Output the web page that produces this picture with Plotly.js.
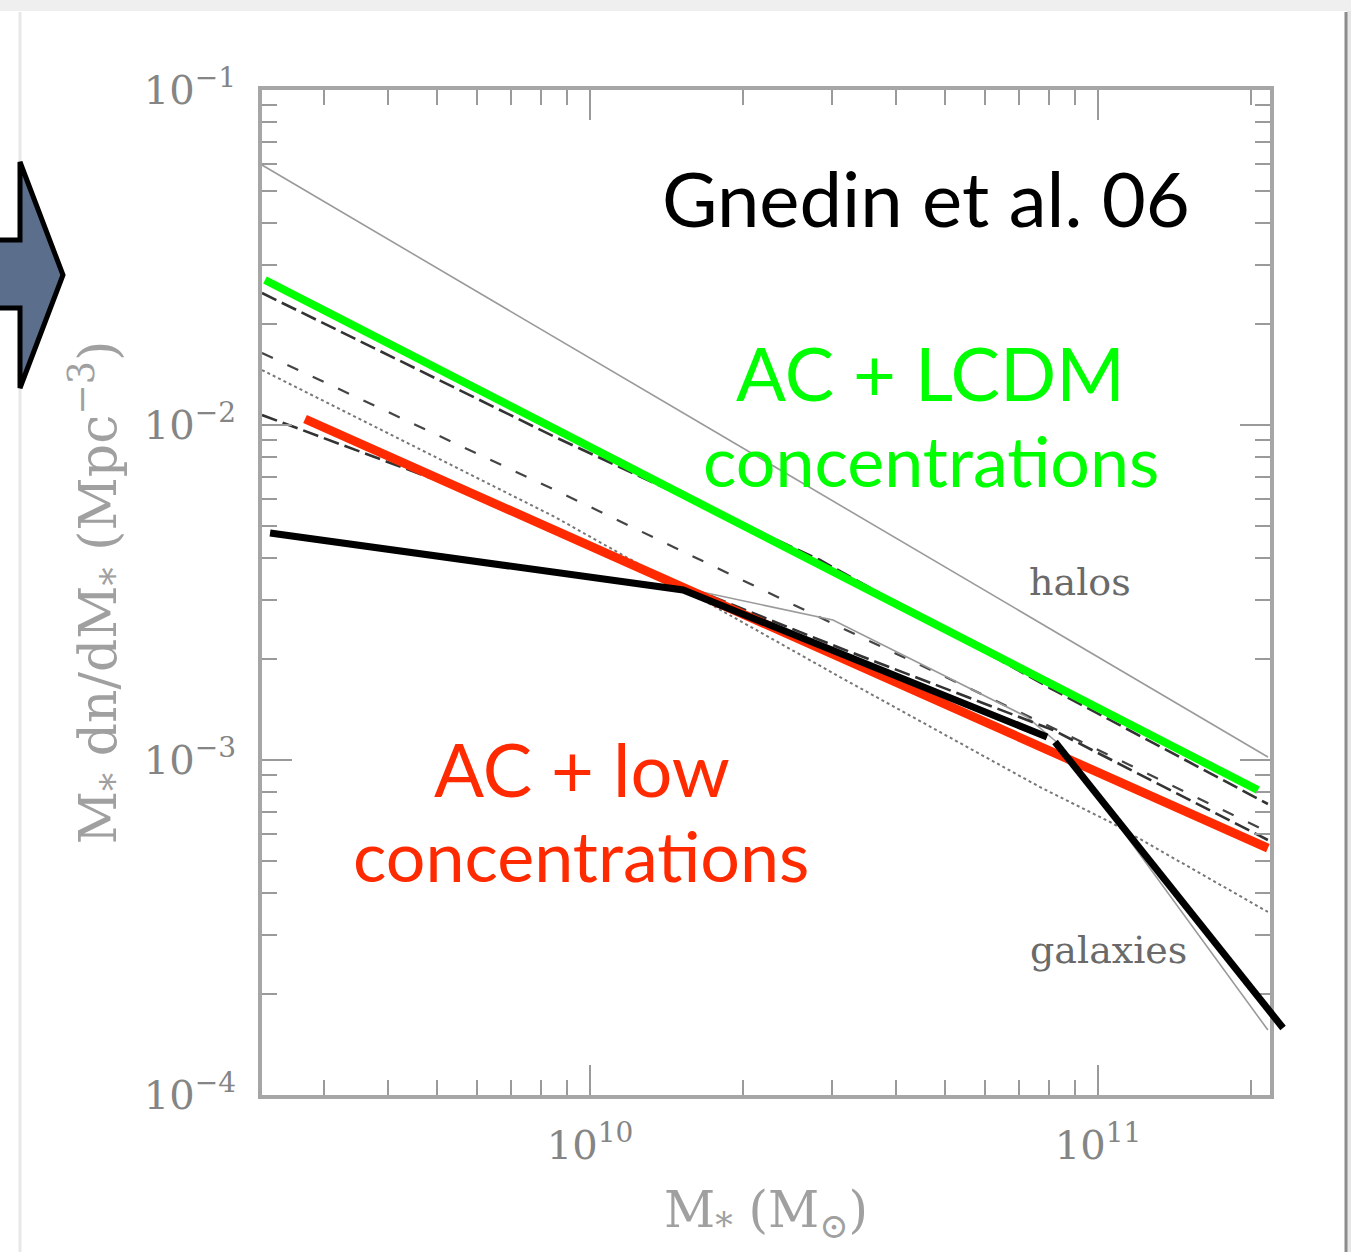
<!DOCTYPE html>
<html>
<head>
<meta charset="utf-8">
<script src="https://cdn.plot.ly/plotly-3.0.1.min.js"></script>
<style>html,body{margin:0;padding:0;background:#fff;}#chart{width:1351px;height:1252px;}</style>
</head>
<body>
<div id="chart"></div>
<script>
// ---- data (stellar mass M*, number density M* dn/dM*) ----
const haloM = [2.261e9, 1e10, 1e11, 2.16e11];
const haloN = [0.0597, 0.01585, 0.00203, 0.001021];

const greenM = [2.292e9, 1e10, 1e11, 2.065e11];
const greenN = [0.02709, 0.0086, 0.001431, 0.000813];

const redM = [2.748e9, 1e10, 1e11, 2.16e11];
const redN = [0.01042, 0.004352, 0.000919, 0.000546];

const blackM = [2.345e9, 1.525e10, 7.937e10, null, 8.23e10, 2.313e11];
const blackN = [0.00476, 0.003217, 0.001172, null, 0.001132, 0.0001585];

const longDashM = [2.261e9, 8.53e9, 2.836e10, 8.045e10, 2.16e11];
const longDashN = [0.02477, 0.009209, 0.003954, 0.00164, 0.000739];

const dashM = [2.261e9, 8.53e9, 3.105e10, 8.155e10, 2.16e11];
const dashN = [0.0164, 0.006397, 0.002494, 0.001246, 0.00061];

const dotM = [2.261e9, 8.53e9, 3.105e10, 7.69e10, 1.056e11, 2.16e11];
const dotN = [0.01459, 0.005314, 0.001769, 0.00083, 0.000653, 0.000352];

const lowDashM = [2.261e9, 5.42e9, 1.525e10, 3.105e10, 8.155e10, 2.16e11];
const lowDashN = [0.01071, 0.00653, 0.00333, 0.002159, 0.001229, 0.000577];

const galM = [1.525e10, 3.008e10, 7.247e10, 8.42e10, 2.16e11];
const galN = [0.003262, 0.002618, 0.001344, 0.001109, 0.0001563];

const xTickVals = [1e10, 1e11];
const xTickText = ['10<sup>10</sup>', '10<sup>11</sup>'];
const xMinorVals = [3e9,4e9,5e9,6e9,7e9,8e9,9e9,2e10,3e10,4e10,5e10,6e10,7e10,8e10,9e10,2e11];
const yTickVals = [1e-4, 1e-3, 1e-2, 1e-1];
const yTickText = ['10<sup>−4</sup>', '10<sup>−3</sup>', '10<sup>−2</sup>', '10<sup>−1</sup>'];
const yMinorVals = [2e-4,3e-4,4e-4,5e-4,6e-4,7e-4,8e-4,9e-4,2e-3,3e-3,4e-3,5e-3,6e-3,7e-3,8e-3,9e-3,2e-2,3e-2,4e-2,5e-2,6e-2,7e-2,8e-2,9e-2];

// ---- traces ----
const traces = [
  {x: haloM, y: haloN, mode: 'lines', line: {color: '#9a9a9a', width: 1.6}},
  {x: dotM, y: dotN, mode: 'lines', line: {color: '#777', width: 2, dash: 'dot'}},
  {x: dashM, y: dashN, mode: 'lines', line: {color: '#444', width: 2.2, dash: '12px,16px'}},
  {x: galM, y: galN, mode: 'lines', line: {color: '#9a9a9a', width: 1.6}},
  {x: longDashM, y: longDashN, mode: 'lines', line: {color: '#333', width: 2.6, dash: '16px,6px'}},
  {x: lowDashM, y: lowDashN, mode: 'lines', line: {color: '#333', width: 2.6, dash: '16px,6px'}},
  {x: greenM, y: greenN, mode: 'lines', line: {color: '#00ff00', width: 8}},
  {x: redM, y: redN, mode: 'lines', line: {color: '#ff2a00', width: 9}},
  {x: blackM, y: blackN, mode: 'lines', xaxis: 'x2', connectgaps: false, line: {color: '#000', width: 7}}
];

const serif = 'DejaVu Serif, Liberation Serif, serif';
const sans = 'Lato, Open Sans, sans-serif';
const lx = 9.3543, rx = 11.3386;

// pixel helper for paper coordinates of decorations
const PX = p => (p - 262) / 1030;
const PY = p => (1095 - p) / 1005;

const axisCommon = {
  type: 'log', showgrid: false, zeroline: false,
  showline: true, linecolor: '#a6a6a6', linewidth: 4, mirror: 'ticks',
  ticks: 'inside', ticklen: 30, tickwidth: 2, tickcolor: '#9a9a9a',
  tickmode: 'array',
  tickfont: {family: serif, size: 40, color: '#858585'}
};

function label(text, px, py, size, color, family) {
  return {text: text, xref: 'paper', yref: 'paper', x: PX(px), y: PY(py),
          xanchor: 'center', yanchor: 'middle', showarrow: false,
          font: {family: family, size: size, color: color}};
}

const layout = {
  width: 1351, height: 1252,
  margin: {l: 262, r: 59, t: 90, b: 157},
  paper_bgcolor: '#ffffff', plot_bgcolor: 'rgba(0,0,0,0)',
  showlegend: false,
  xaxis: Object.assign({}, axisCommon, {
    domain: [0, 1008 / 1030], range: [lx, rx],
    tickvals: xTickVals, ticktext: xTickText, ticklabelstandoff: 12,
    minor: {ticks: 'inside', ticklen: 15, tickwidth: 2, tickcolor: '#9a9a9a', tickmode: 'array', tickvals: xMinorVals},
    title: {text: 'M<sub>*</sub> (M<sub>⊙</sub>)', font: {family: serif, size: 50, color: '#a0a0a0'}, standoff: 26}
  }),
  xaxis2: {
    type: 'log', domain: [0, 1], anchor: 'y', visible: false,
    range: [lx, lx + 1030 / 508], showgrid: false, zeroline: false
  },
  yaxis: Object.assign({}, axisCommon, {
    range: [-4, -1],
    tickvals: yTickVals, ticktext: yTickText, ticklabelstandoff: 14,
    minor: {ticks: 'inside', ticklen: 15, tickwidth: 2, tickcolor: '#9a9a9a', tickmode: 'array', tickvals: yMinorVals},
    title: {text: 'M<sub>*</sub> dn/dM<sub>*</sub> (Mpc<sup>−3</sup>)', font: {family: serif, size: 52, color: '#a0a0a0'}, standoff: 12}
  }),
  shapes: [
    {type: 'rect', xref: 'paper', yref: 'paper', x0: PX(-5), x1: PX(1356), y0: PY(11), y1: PY(-5), fillcolor: '#efefef', line: {width: 0}, layer: 'below'},
    {type: 'line', xref: 'paper', yref: 'paper', x0: PX(20), x1: PX(20), y0: PY(12), y1: PY(1256), line: {color: '#e8e8e8', width: 3}, layer: 'below'},
    {type: 'rect', xref: 'paper', yref: 'paper', x0: PX(1347), x1: PX(1356), y0: PY(1256), y1: PY(11), fillcolor: '#e6e6e6', line: {width: 0}, layer: 'below'},
    {type: 'line', xref: 'paper', yref: 'paper', x0: PX(1346), x1: PX(1346), y0: PY(12), y1: PY(1256), line: {color: '#8c8c8c', width: 3}, layer: 'below'},
    {type: 'path', xref: 'paper', yref: 'paper',
     path: 'M ' + PX(-12) + ',' + PY(240) + ' L ' + PX(20) + ',' + PY(240) + ' L ' + PX(20) + ',' + PY(162) +
           ' L ' + PX(63) + ',' + PY(275) + ' L ' + PX(20) + ',' + PY(388) + ' L ' + PX(20) + ',' + PY(308) +
           ' L ' + PX(-12) + ',' + PY(308) + ' Z',
     fillcolor: '#5b6e8c', line: {color: '#000', width: 5}}
  ],
  annotations: [
    label('Gnedin et al. 06', 926, 197, 76, '#000', sans),
    label('AC + LCDM', 930, 372, 74, '#00ff00', sans),
    label('concentrations', 931, 460, 70, '#00ff00', sans),
    label('AC + low', 582, 768, 74, '#ff2a00', sans),
    label('concentrations', 581, 855, 70, '#ff2a00', sans),
    label('halos', 1080, 582, 38, '#6a6a6a', serif),
    label('galaxies', 1108, 950, 38, '#6a6a6a', serif)
  ]
};

Plotly.newPlot('chart', traces, layout, {displayModeBar: false, staticPlot: true});
</script>
</body>
</html>
